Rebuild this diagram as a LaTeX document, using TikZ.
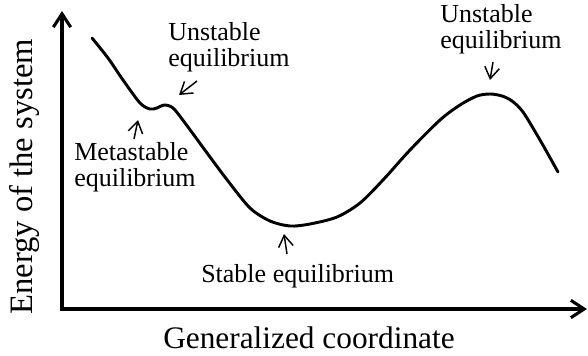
\documentclass[tikz,border=0pt]{standalone}
\usepackage{fontspec}
\setmainfont{Liberation Serif}
\usetikzlibrary{arrows.meta,positioning}

\begin{document}
\begin{tikzpicture}[
  x=0.75pt, y=-0.75pt,
  axis/.style={{Straight Barb[length=10pt,width=13pt]}-{Straight Barb[length=10pt,width=13pt]}, line width=2.3pt, line join=miter},
  curve/.style={line width=2.2pt, line join=round, line cap=round},
  pointer/.style={-{Straight Barb[length=8.5pt,width=11pt]}, line width=1.1pt},
  lbl/.style={align=left, inner sep=0pt, font=\fontsize{19.5}{19.5}\selectfont},
  axlabel/.style={inner sep=0pt, font=\fontsize{23.5}{28}\selectfont}
]
\useasboundingbox (0,0) rectangle (588,356);

\coordinate (origin) at (62,309);
\coordinate (ytip) at (62,11);
\coordinate (xtip) at (587,309);
\draw[axis] (ytip) -- (origin) -- (xtip);

\draw[curve] plot[smooth, tension=0.5] coordinates {
  (92,38) (108,58) (123,80) (140,103) (150,109) (157,108) (164,105)
  (173,108) (185,123) (210,157) (228,181) (250,208) (270,221)
  (290,226) (310,224) (337,217) (360,203) (383,180) (410,150) (440,120)
  (460,105) (477,96) (490,94) (502,96) (512,101) (523,112) (540,140) (558,172)};

\node[lbl, anchor=north west] (unstableL) at (168,22) {Unstable\\equilibrium};
\node[lbl, anchor=north west] (meta) at (74,142) {Metastable\\equilibrium};
\node[lbl, anchor=north west] (unstableR) at (440,4) {Unstable\\equilibrium};
\node[lbl, anchor=north west] (stable) at (201,264) {Stable equilibrium};

\coordinate (uLtail) at (197,81);
\coordinate (uLtip) at (179,95);
\coordinate (mtail) at (134,139);
\coordinate (mtip) at (138,120);
\coordinate (stail) at (287,254);
\coordinate (stip) at (284,234);
\coordinate (uRtail) at (493,62);
\coordinate (uRtip) at (490,80);
\draw[pointer] (uLtail) -- (uLtip);
\draw[pointer] (mtail) -- (mtip);
\draw[pointer] (stail) -- (stip);
\draw[pointer] (uRtail) -- (uRtip);

\node[axlabel, anchor=base west] (xlab) at (163,348) {Generalized coordinate};
\node[axlabel, anchor=base west, rotate=90, font=\fontsize{24.5}{29}\selectfont] (ylab) at (32,315) {Energy of the system};
\end{tikzpicture}
\end{document}
